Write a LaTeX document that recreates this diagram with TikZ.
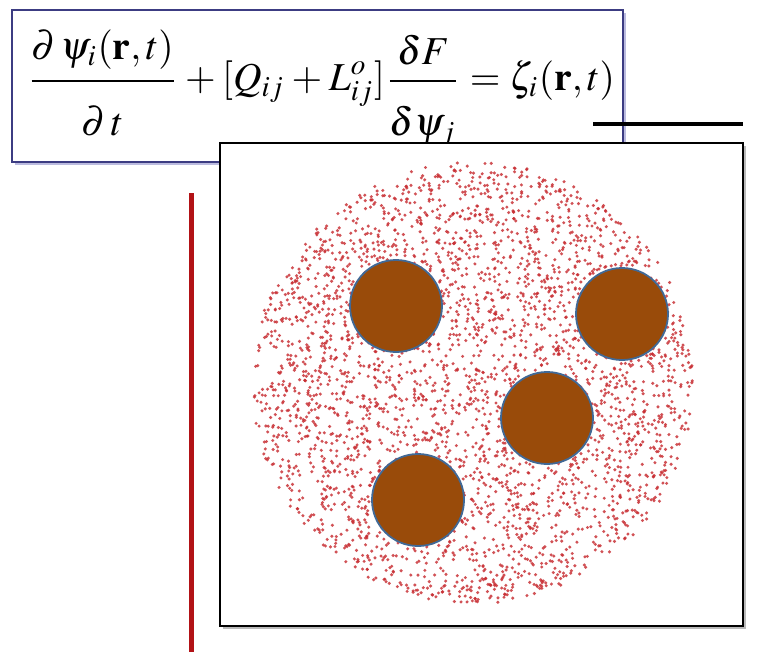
\documentclass[tikz,border=0pt]{standalone}
\usepackage{mathptmx}
\usepackage{graphicx}
\usetikzlibrary{shadows}
\definecolor{eqborder}{RGB}{60,60,130}
\definecolor{eqshadow}{RGB}{170,170,215}
\definecolor{dotred}{RGB}{200,45,50}
\definecolor{partfill}{RGB}{153,75,10}
\definecolor{partedge}{RGB}{65,105,150}
\definecolor{barred}{RGB}{178,18,22}
\tikzset{
  eqbox/.style={draw=eqborder, line width=1.6pt, fill=white, minimum width=611pt, minimum height=152pt, inner sep=0pt,
    drop shadow={shadow xshift=2.5pt, shadow yshift=-2.5pt, fill=eqshadow, opacity=0.8}},
  panel/.style={draw=black, line width=1.2pt, fill=white, minimum width=523pt, minimum height=483pt, inner sep=0pt,
    drop shadow={shadow xshift=3pt, shadow yshift=-3pt, fill=black!45, opacity=0.6}},
  particle/.style={circle, draw=partedge, line width=1.8pt, fill=partfill, minimum size=92pt, inner sep=0pt},
  dot/.style={fill=dotred, opacity=0.82},
}
\begin{document}
\begin{tikzpicture}[x=1pt,y=-1pt]
\useasboundingbox (0,0) rectangle (764,672);
\fill[white] (0,0) rectangle (764,672);
% equation box
\node[eqbox] (eqbox) at (317.5,86) {};
\node[inner sep=0pt] (eq) at (321,89) {\resizebox*{588pt}{118pt}{\medmuskip=3mu\thickmuskip=4mu$\displaystyle
  \frac{\partial\,\psi_i(\mathbf{r},t)\rule[-0.4em]{0pt}{1em}}{\rule{0pt}{1.25em}\partial\,t}+[Q_{ij}+L^{o}_{ij}]\frac{\delta F}{\rule{0pt}{1.25em}\delta\psi_j}=\zeta_i(\mathbf{r},t)$}};
% black bar
\coordinate (b1) at (593,124);
\coordinate (b2) at (743,124);
\draw[line width=4.5pt] (b1) -- (b2);
% red bar
\coordinate (r1) at (191,193);
\coordinate (r2) at (191,652);
\draw[barred, line width=5pt] (r1) -- (r2);
% panel
\node[panel] (panel) at (481.5,384.5) {};
% dot cloud
\pgfmathsetseed{4217}
\foreach \i in {1,...,3600}{
  \pgfmathsetmacro\ang{360*rnd}
  \pgfmathsetmacro\rad{221*sqrt(rnd)}
  \pgfmathsetmacro\px{473+\rad*cos(\ang)}
  \pgfmathsetmacro\py{383+\rad*sin(\ang)}
  \fill[dot] (\px,\py) circle (1.7pt);
}
% particles
\node[particle] (p1) at (396,306) {};
\node[particle] (p2) at (622,314) {};
\node[particle] (p3) at (547,418) {};
\node[particle] (p4) at (418,500) {};
\end{tikzpicture}
\end{document}
